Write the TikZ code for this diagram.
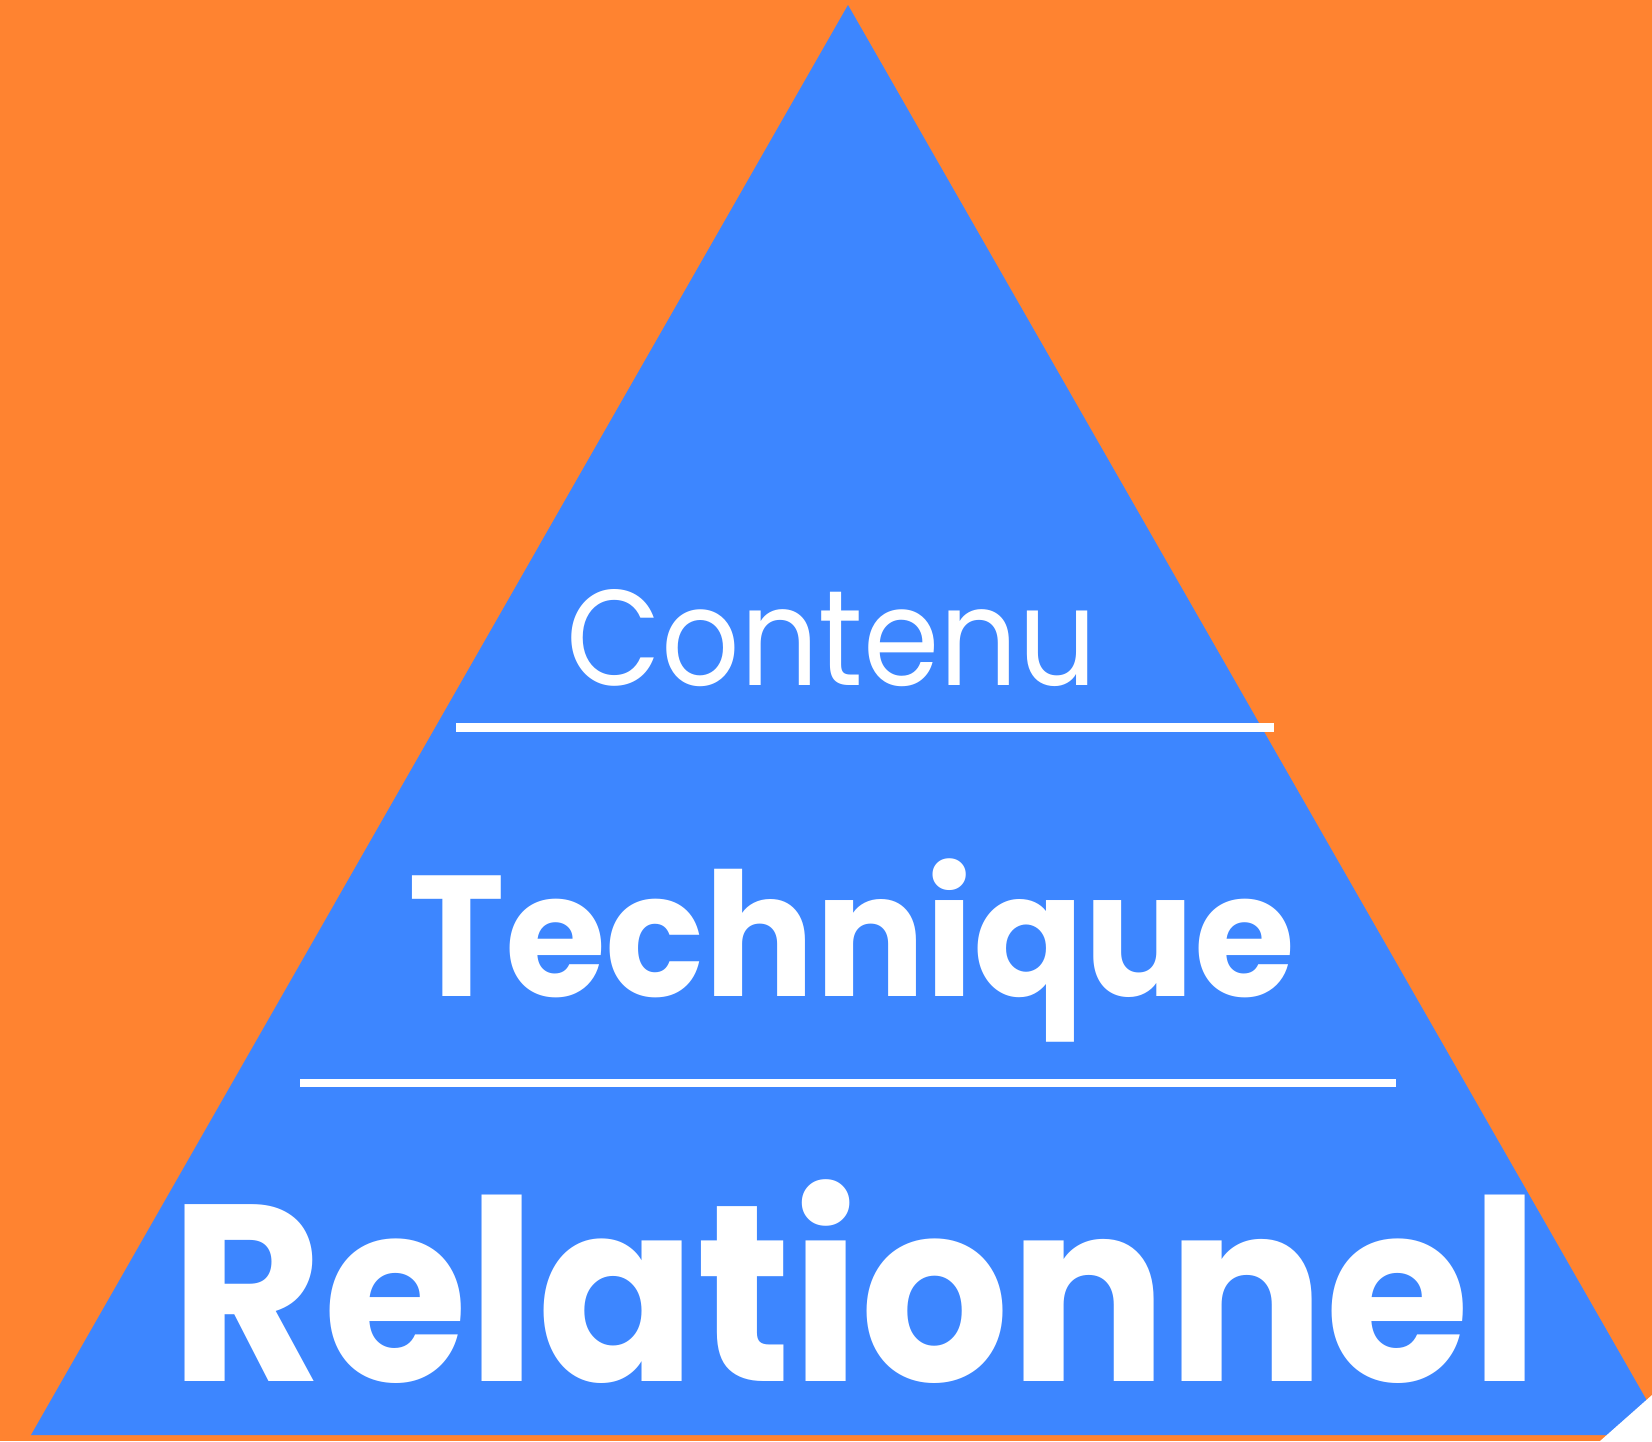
\documentclass[tikz,border=0pt]{standalone}
\usepackage{graphicx}
\usepackage{fontspec}
\setmainfont{Poppins}
\definecolor{pyrorange}{RGB}{255,131,48}
\definecolor{pyrblue}{RGB}{61,134,255}
\tikzset{every picture/.style={line width=0.75pt}}

\begin{document}
\begin{tikzpicture}[x=0.5pt,y=0.5pt,yscale=-1,xscale=1]
\useasboundingbox (0,0) rectangle (1652,1441);

%Shape: background
\fill [pyrorange] (0,0) rectangle (1652,1441) ;
%Shape: Triangle
\fill [pyrblue] (848,5) -- (1646,1399) -- (1646,1435) -- (31,1435) -- cycle ;
%Shape: corner cut
\fill [white] (1652,1395) -- (1652,1441) -- (1600,1441) -- cycle ;
%Straight Lines
\fill [white] (456,723) rectangle (1274,732) ;
%Straight Lines
\fill [white] (300,1079) rectangle (1396,1087) ;

% Text Node
\node (contenu) [anchor=base, inner sep=0pt, text=white, font=\fontsize{68}{68}\selectfont] at (832,685) {\scalebox{0.904}[1]{Contenu}};
% Text Node
\node (technique) [anchor=base, inner sep=0pt, text=white, font=\fontsize{86}{86}\selectfont\bfseries] at (852,996) {\scalebox{0.951}[1]{Technique}};
% Text Node
\node (relationnel) [anchor=base, inner sep=0pt, text=white, font=\fontsize{126}{126}\selectfont\bfseries] at (855,1381) {\scalebox{0.93}[1]{Relationnel}};

\end{tikzpicture}
\end{document}
